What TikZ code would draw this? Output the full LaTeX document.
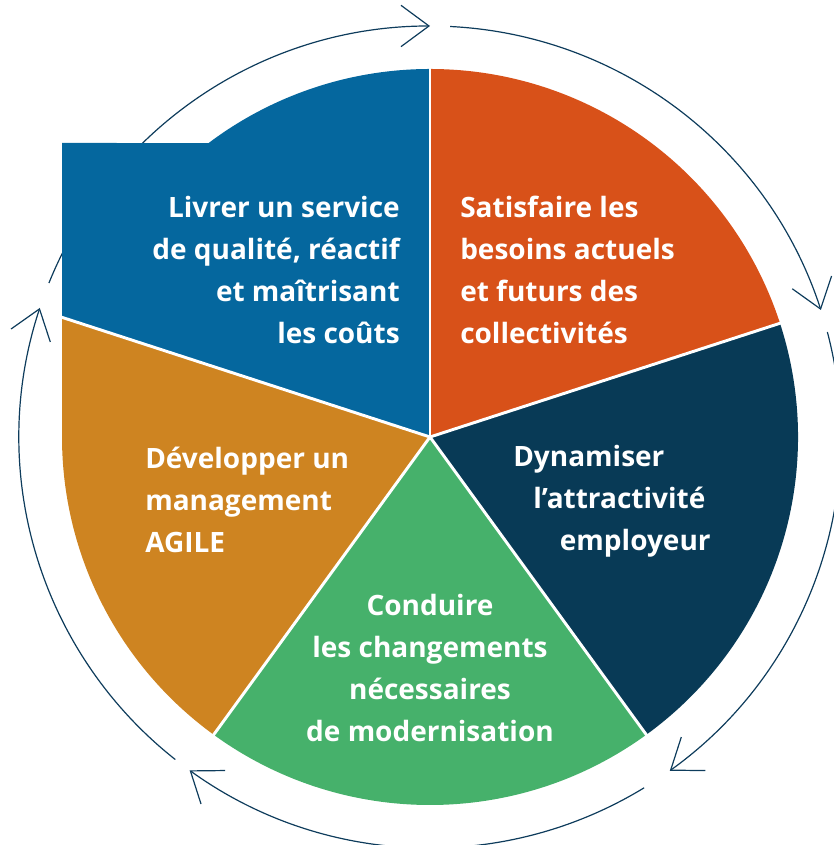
\documentclass[tikz,border=0pt]{standalone}
\usepackage{fontspec}
\setmainfont{Open Sans}
\usetikzlibrary{arrows.meta}
\definecolor{cblue}{HTML}{05679E}
\definecolor{corange}{HTML}{D85119}
\definecolor{cnavy}{HTML}{083A56}
\definecolor{cgreen}{HTML}{46B16B}
\definecolor{cgold}{HTML}{CE8421}
\definecolor{cring}{HTML}{0E3C5C}
\begin{document}
\begin{tikzpicture}[x=0.75pt,y=0.75pt,
  ring/.style={draw=cring, line width=0.9pt, -{Straight Barb[length=21pt,width=31pt]}},
  sep/.style={draw=white, line width=2.2pt},
  lbl/.style={text=white, font=\bfseries\fontsize{21}{31.7}\selectfont, inner sep=0pt}]
\useasboundingbox (0,0) rectangle (833,845);
\coordinate (C) at (430,408);
% outer ring arrows
\draw[ring] (C) ++(158:411) arc[start angle=158, end angle=90, radius=411];
\draw[ring] (C) ++(87.2:411) arc[start angle=87.2, end angle=18, radius=411];
\draw[ring] (C) ++(14.8:411) arc[start angle=14.8, end angle=-54.3, radius=411];
\draw[ring] (C) ++(-58.6:411) arc[start angle=-58.6, end angle=-125.8, radius=411];
\draw[ring] (C) ++(-128.3:411) arc[start angle=-128.3, end angle=-198.3, radius=411];
% sectors
\fill[cblue] (C) -- ++(90:368) arc[start angle=90, end angle=126.98, radius=368] -- (62,702) -- (62,527.6) -- cycle;
\fill[corange] (C) -- ++(90:368) arc[start angle=90, end angle=18, radius=368] -- cycle;
\fill[cnavy] (C) -- ++(18:368) arc[start angle=18, end angle=-54, radius=368] -- cycle;
\fill[cgreen] (C) -- ++(-54:368) arc[start angle=-54, end angle=-126, radius=368] -- cycle;
\fill[cgold] (C) -- (62,527.6) -- (62,408) arc[start angle=180, end angle=234, radius=368] -- cycle;
% separators
\draw[sep] (C) -- ++(90:370);
\draw[sep] (C) -- ++(18:370);
\draw[sep] (C) -- ++(-54:370);
\draw[sep] (C) -- ++(-126:370);
\draw[sep] (C) -- (60,528.3);
% labels (base anchor = baseline of last line)
\node[lbl, align=right, anchor=base east] (t1) at (400,501) {Livrer un service\\de qualité, réactif\\et maîtrisant\\les coûts};
\node[lbl, align=left, anchor=base west] (t2) at (460,501) {Satisfaire les\\besoins actuels\\et futurs des\\collectivités};
\node[lbl, align=left, anchor=base west] (t3) at (513,294) {Dynamiser\\\hspace*{15pt}l’attractivité\\\hspace*{35pt}employeur};
\node[lbl, align=center, anchor=base] (t4) at (430,103) {Conduire\\les changements\\nécessaires\\de modernisation};
\node[lbl, align=left, anchor=base west] (t5) at (145,292) {Développer un\\management\\AGILE};
\end{tikzpicture}
\end{document}
